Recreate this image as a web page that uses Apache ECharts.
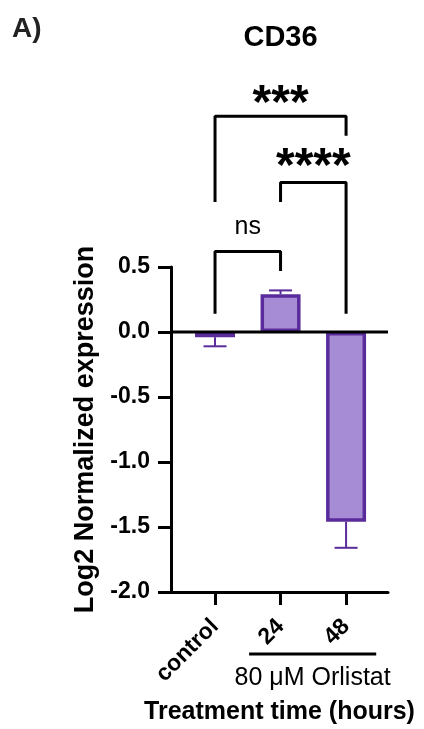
<!DOCTYPE html>
<html><head><meta charset="utf-8">
<script src="https://cdn.jsdelivr.net/npm/echarts@6/dist/echarts.min.js"></script>
<style>html,body{margin:0;padding:0;background:#fff}#c{width:424px;height:729px}</style>
</head><body><div id="c"></div>
<script>
// ---- data ----
const categories = ['control', '24', '48'];
const meanValues = [-0.04, 0.29, -1.46];
const errorEnds = [-0.11, 0.32, -1.66];
const yTicks = [-2.0, -1.5, -1.0, -0.5, 0.0, 0.5];
const comparisons = [[0, 1, 'ns'], [1, 2, '****'], [0, 2, '***']];
const groupLabel = '80 \u03BCM Orlistat';
const groupMembers = [1, 2];

// ---- layout / style ----
const FONT = '"Liberation Sans", Arial, Helvetica, sans-serif';
const BORDER = '#5a2c9b';
const FILL = '#a68bd5';
const xMin = -0.672, xMax = 2.64;
// bracket geometry in data units (annotation, not data)
const bracketGeom = [
  {top: 0.62, leftEnd: 0.14, rightEnd: 0.47, textY: 0.81, size: 25, weight: 'normal', dy: 0},
  {top: 1.15, leftEnd: 1.0, rightEnd: 0.14, textY: 1.35, size: 48, weight: 'bold', dy: 11},
  {top: 1.66, leftEnd: 1.0, rightEnd: 1.51, textY: 1.83, size: 48, weight: 'bold', dy: 11}
];

const chart = echarts.init(document.getElementById('c'), null, {renderer: 'canvas'});

const bracketSeries = comparisons.map((c, i) => {
  const g = bracketGeom[i];
  return {
    type: 'line', clip: false, silent: true, symbol: 'none', z: 6,
    lineStyle: {color: '#000', width: 3},
    data: [[c[0], g.leftEnd], [c[0], g.top], [c[1], g.top], [c[1], g.rightEnd]]
  };
});
const bracketText = comparisons.map((c, i) => {
  const g = bracketGeom[i];
  return {
    type: 'scatter', clip: false, silent: true, symbolSize: 0, z: 7,
    itemStyle: {opacity: 1, color: '#000'},
    data: [[(c[0] + c[1]) / 2, g.textY]],
    label: {show: true, position: 'inside', formatter: c[2], color: '#000', textBorderWidth: 0, opacity: 1,
      fontSize: g.size, fontWeight: g.weight, fontFamily: FONT, offset: [0, g.dy]}
  };
});

const option = {
  animation: false,
  backgroundColor: '#fff',
  grid: {left: 171, right: 36, top: 267, bottom: 137, containLabel: false, outerBoundsMode: 'none'},
  xAxis: {
    type: 'value', min: xMin, max: xMax,
    axisLine: {onZero: false, lineStyle: {color: '#000', width: 3}},
    axisTick: {customValues: [0, 1, 2], length: 13, lineStyle: {color: '#000', width: 3}},
    axisLabel: {customValues: [0, 1, 2], formatter: v => categories[Math.round(v)] || '',
      rotate: 45, margin: 31, color: '#000', fontSize: 23, fontWeight: 'bold', fontFamily: FONT},
    splitLine: {show: false},
    name: 'Treatment time (hours)', nameLocation: 'middle', nameGap: 108,
    nameTextStyle: {color: '#000', fontSize: 25, fontWeight: 'bold', fontFamily: FONT}
  },
  yAxis: {
    type: 'value', min: yTicks[0], max: yTicks[yTicks.length - 1], interval: 0.5,
    axisLine: {show: true, onZero: false, lineStyle: {color: '#000', width: 3}},
    axisTick: {show: true, length: 13, lineStyle: {color: '#000', width: 3}},
    axisLabel: {formatter: v => v.toFixed(1), margin: 21, color: '#000',
      fontSize: 23, fontWeight: 'bold', fontFamily: FONT},
    splitLine: {show: false},
    name: 'Log2 Normalized expression', nameLocation: 'middle', nameGap: 68,
    nameTextStyle: {color: '#000', fontSize: 27, fontWeight: 'bold', fontFamily: FONT}
  },
  series: [
    {
      type: 'custom', z: 1, silent: true,
      data: categories.map((c, i) => [i, meanValues[i], errorEnds[i]]),
      renderItem: (params, api) => {
        const x = api.value(0);
        const p0 = api.coord([x, api.value(1)]);
        const p1 = api.coord([x, api.value(2)]);
        const half = 11.5;
        return {type: 'group', children: [
          {type: 'line', shape: {x1: p0[0], y1: p0[1], x2: p1[0], y2: p1[1]}, style: {stroke: BORDER, lineWidth: 2}},
          {type: 'line', shape: {x1: p1[0] - half, y1: p1[1], x2: p1[0] + half, y2: p1[1]}, style: {stroke: BORDER, lineWidth: 2}}
        ]};
      }
    },
    {
      type: 'bar', z: 2, barWidth: 40, silent: true,
      data: categories.map((c, i) => [i, meanValues[i]]),
      itemStyle: {color: FILL, borderColor: BORDER, borderWidth: 3.5}
    },
    {
      type: 'line', z: 5, silent: true, symbol: 'none',
      lineStyle: {color: '#000', width: 3},
      data: [[xMin, 0], [xMax, 0]]
    },
    ...bracketSeries,
    ...bracketText
  ]
};
chart.setOption(option);

// annotations anchored to the axes
const gA = chart.convertToPixel({gridIndex: 0}, [groupMembers[0] - 0.48, yTicks[0]]);
const gB = chart.convertToPixel({gridIndex: 0}, [groupMembers[1] + 0.46, yTicks[0]]);
const titleP = chart.convertToPixel({gridIndex: 0}, [1, 0]);
const lineY = gA[1] + 62;
chart.setOption({
  graphic: [
    {type: 'text', x: 12, y: 29, style: {text: 'A)', font: 'bold 28px ' + FONT, fill: '#222', verticalAlign: 'middle'}},
    {type: 'text', x: titleP[0], y: 38, style: {text: 'CD36', font: 'bold 29px ' + FONT, fill: '#000', align: 'center', verticalAlign: 'middle'}},
    {type: 'line', shape: {x1: gA[0], y1: lineY, x2: gB[0], y2: lineY}, style: {stroke: '#000', lineWidth: 3}},
    {type: 'text', x: (gA[0] + gB[0]) / 2, y: lineY + 24, style: {text: groupLabel, font: '25px ' + FONT, fill: '#000', align: 'center', verticalAlign: 'middle'}}
  ]
});
</script>
</body></html>
